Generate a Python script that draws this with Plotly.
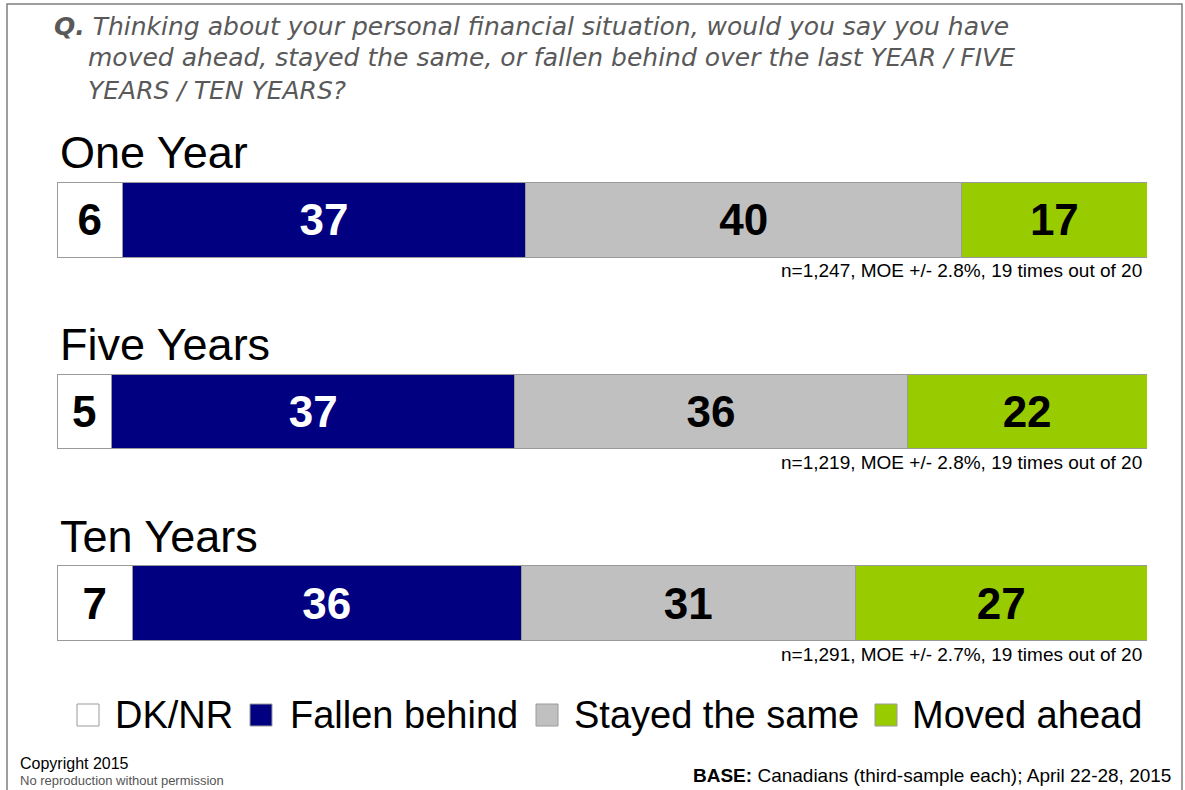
import plotly.graph_objects as go

# Survey results (percent) by time horizon
periods = ["One Year", "Five Years", "Ten Years"]
dk_nr = [6, 5, 7]
fallen_behind = [37, 37, 36]
stayed_same = [40, 36, 31]
moved_ahead = [17, 22, 27]
sample_notes = [
    "n=1,247, MOE +/- 2.8%, 19 times out of 20",
    "n=1,219, MOE +/- 2.8%, 19 times out of 20",
    "n=1,291, MOE +/- 2.7%, 19 times out of 20",
]
series_names = ["DK/NR", "Fallen behind", "Stayed the same", "Moved ahead"]
series_values = [dk_nr, fallen_behind, stayed_same, moved_ahead]
series_colors = ["#FFFFFF", "#000080", "#C0C0C0", "#99CC00"]
label_colors = ["#000000", "#FFFFFF", "#000000", "#000000"]

W, H = 1185, 790
ML, MR, MT, MB = 57, 38, 124, 91
FONT = "Liberation Sans, Arial, sans-serif"
QFONT = "DejaVu Sans, Verdana, sans-serif"


def px(x):
    return (x - ML) / (W - ML - MR)


def py(y):
    return (H - MB - y) / (H - MT - MB)


fig = go.Figure()
for name, vals, col, tcol in zip(series_names, series_values, series_colors, label_colors):
    fig.add_trace(go.Bar(
        y=periods,
        x=vals,
        name=name,
        orientation="h",
        width=0.39,
        marker=dict(color=col, line=dict(color="#9a9a9a", width=1)),
        text=[str(v) for v in vals],
        textposition="inside",
        insidetextanchor="middle",
        textangle=0,
        textfont=dict(family=FONT, size=44, color=tcol, weight="bold"),
        hoverinfo="skip",
        showlegend=False,
    ))

annotations = []
shapes = []

# Question text
q_lines = [
    (52, 27, "<b>Q.</b> Thinking about your personal financial situation, would you say you have"),
    (86, 58, "moved ahead, stayed the same, or fallen behind over the last YEAR / FIVE"),
    (86, 90, "YEARS / TEN YEARS?"),
]
for x, y, t in q_lines:
    annotations.append(dict(
        x=px(x), y=py(y), xref="paper", yref="paper", xanchor="left", yanchor="middle",
        text="<i>" + t + "</i>", showarrow=False,
        font=dict(family=QFONT, size=25, color="#595959"),
    ))

# Row titles and sample notes
title_y = [152, 344, 536]
note_y = [270, 462, 654]
for p, ty, n, ny in zip(periods, title_y, sample_notes, note_y):
    annotations.append(dict(
        x=px(58), y=py(ty), xref="paper", yref="paper", xanchor="left", yanchor="middle",
        text=p, showarrow=False, font=dict(family=FONT, size=45, color="#000000"),
    ))
    annotations.append(dict(
        x=px(1144), y=py(ny), xref="paper", yref="paper", xanchor="right", yanchor="middle",
        text=n, showarrow=False, font=dict(family=FONT, size=19, color="#000000"),
    ))

# Legend row
legend_items = [(77, 113), (250, 288), (536, 572), (875, 910)]
for (sx, tx), name, col in zip(legend_items, series_names, series_colors):
    shapes.append(dict(
        type="rect", xref="paper", yref="paper",
        x0=px(sx), x1=px(sx + 22), y0=py(726), y1=py(704),
        fillcolor=col, line=dict(color="#9a9a9a", width=1),
    ))
    annotations.append(dict(
        x=px(tx), y=py(715), xref="paper", yref="paper", xanchor="left", yanchor="middle",
        text=name, showarrow=False, font=dict(family=FONT, size=38, color="#000000"),
    ))

# Footer
annotations.append(dict(
    x=px(18), y=py(763), xref="paper", yref="paper", xanchor="left", yanchor="middle",
    text="Copyright 2015", showarrow=False, font=dict(family=FONT, size=16, color="#000000"),
))
annotations.append(dict(
    x=px(18), y=py(780), xref="paper", yref="paper", xanchor="left", yanchor="middle",
    text="No reproduction without permission", showarrow=False,
    font=dict(family=FONT, size=13, color="#555555"),
))
annotations.append(dict(
    x=px(1173), y=py(775), xref="paper", yref="paper", xanchor="right", yanchor="middle",
    text="<b>BASE:</b> Canadians (third-sample each); April 22-28, 2015", showarrow=False,
    font=dict(family=FONT, size=19, color="#000000"),
))

# Slide frame
shapes.append(dict(
    type="rect", xref="paper", yref="paper",
    x0=px(7), x1=px(1182), y0=py(4), y1=py(800),
    line=dict(color="#7f7f7f", width=1.5), fillcolor="rgba(0,0,0,0)", layer="below",
))

fig.update_layout(
    width=W, height=H,
    margin=dict(l=ML, r=MR, t=MT, b=MB),
    barmode="stack",
    barnorm="percent",
    paper_bgcolor="#FFFFFF",
    plot_bgcolor="#FFFFFF",
    xaxis=dict(visible=False, range=[0, 100], fixedrange=True),
    yaxis=dict(visible=False, autorange=False, range=[2.5, -0.5], fixedrange=True,
               categoryorder="array", categoryarray=periods),
    annotations=annotations,
    shapes=shapes,
    uniformtext=dict(mode="show", minsize=40),
)

fig.write_html("out.html", config={"displayModeBar": False})
